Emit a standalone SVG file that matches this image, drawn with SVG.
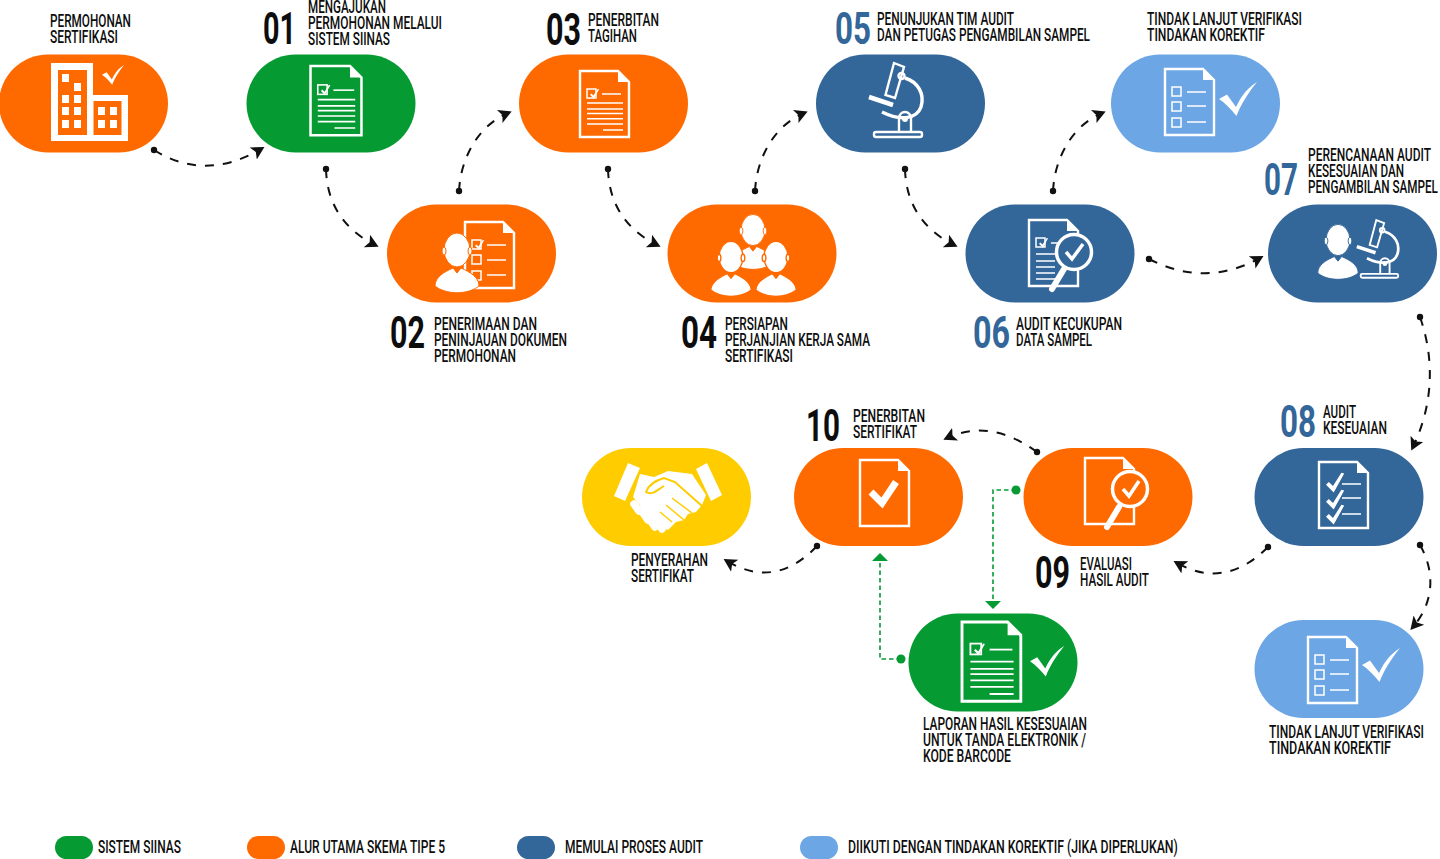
<svg xmlns="http://www.w3.org/2000/svg" width="1440" height="859" viewBox="0 0 1440 859">
<style>
text{font-family:"Roboto","Liberation Sans",sans-serif;fill:#0d0d0d;font-weight:500}
.t{font-size:18.500px}
.l{font-size:17.500px}
.n{font-size:44px;font-weight:700}
.nb{fill:#336699}
.or{fill:#FF6A00}.gr{fill:#069A33}.bl{fill:#336699}.lb{fill:#6CA6E4}.ye{fill:#FFCC00}
.ln{fill:none;stroke:#fff;stroke-width:2.4}
.ln1{fill:none;stroke:#fff;stroke-width:1.5}
.w{fill:#fff}
.c{fill:none;stroke:#111;stroke-width:2;stroke-dasharray:9 9;marker-start:url(#dot);marker-end:url(#arr)}
.g{fill:none;stroke:#069A33;stroke-width:1.6;stroke-dasharray:4.5 3}
</style>
<defs>
<marker id="dot" markerUnits="userSpaceOnUse" markerWidth="10" markerHeight="10" refX="5" refY="5"><circle cx="5" cy="5" r="3.2" fill="#111"/></marker>
<marker id="arr" markerUnits="userSpaceOnUse" markerWidth="18" markerHeight="18" refX="9" refY="9" orient="auto"><path d="M0,2 L13,9 L0,16 L3,9Z" fill="#111"/></marker>
<marker id="gdot" markerUnits="userSpaceOnUse" markerWidth="12" markerHeight="12" refX="6" refY="6"><circle cx="6" cy="6" r="4.5" fill="#069A33"/></marker>
<rect id="pill" width="169" height="98" rx="49"/>
<rect id="leg" width="38" height="23" rx="11.5"/>
<path id="page" d="M0,0H38L49,11V66H0Z"/>
<path id="fold" d="M38,0L49,11H38Z"/>
<g id="doc"><use href="#page" class="ln"/><use href="#fold" class="w"/></g>
<path id="tick" d="M0,5.5L2,3.5L5,6.5L11,-3L13,-2.5L5.5,11Z" class="w"/>
<g id="checklist">
<use href="#doc"/>
<rect x="7" y="18" width="9" height="9" class="ln1"/><rect x="7" y="33" width="9" height="9" class="ln1"/><rect x="7" y="49" width="9" height="9" class="ln1"/>
<path d="M22,23H41M22,37H41M22,53H41" class="ln1"/>
</g>
<path id="bigtick" d="M0,17L8,12.500L17,25C23,12 30,5 38,0C30,10 22,22 17.500,34C12,27 6,21 0,17Z" class="w"/>
<g id="micro">
<path d="M-6,-41L4,-37L-5,-6L-14.500,-9Z" class="ln"/>
<circle cx="1.500" cy="-28" r="3" class="ln"/>
<path d="M5,-26C18,-22 25,-10 21,3C17,14 2,18 -18,8" fill="none" stroke="#fff" stroke-width="3.500"/>
<path d="M-31,-7L-7,1" fill="none" stroke="#fff" stroke-width="4.500"/>
<rect x="-26" y="28" width="48" height="5" rx="2" class="ln"/>
<path d="M-1,28V14A6,6 0 0 1 11,14V28" class="ln"/>
<circle cx="5" cy="15" r="3" class="w"/>
</g>
<g id="person">
<ellipse cx="0" cy="0" rx="13" ry="17"/>
<ellipse cx="-13" cy="1" rx="2" ry="4"/><ellipse cx="13" cy="1" rx="2" ry="4"/>
<path d="M-22,36C-22,27 -13,22 -4,18L0,23L4,18C13,22 22,27 22,36C11,45 -11,45 -22,36Z"/>
</g>
<g id="lines"><path d="M2,0H38M2,6H38M2,10.500H38M2,15.700H38M2,21H38M18,27H38" class="ln1"/></g>
</defs>

<g id="connectors">
<path class="c" d="M154,150Q205,182 261,149"/>
<path class="c" d="M326,169C327,205 345,230 375,245"/>
<path class="c" d="M459,191C461,155 480,125 508,113"/>
<path class="c" d="M608,169C609,205 627,230 657,245"/>
<path class="c" d="M755,191C757,155 776,125 804,113"/>
<path class="c" d="M905,169C906,205 924,230 954,245"/>
<path class="c" d="M1053,191C1055,155 1074,125 1102,113"/>
<path class="c" d="M1149,259Q1205,288 1260,258"/>
<path class="c" d="M1420,317C1435,360 1433,405 1413,447"/>
<path class="c" d="M1420,545C1437,575 1432,605 1413,627"/>
<path class="c" d="M1268,547Q1225,590 1177,563"/>
<path class="c" d="M1037,452Q990,418 947,438"/>
<path class="c" d="M817,546Q775,590 727,561"/>
<path class="g" marker-start="url(#gdot)" d="M1016,490H993V602"/>
<path d="M985,601H1001L993,609Z" fill="#069A33"/>
<path class="g" marker-start="url(#gdot)" d="M901,659H880V561"/>
<path d="M872,561H888L880,553Z" fill="#069A33"/>
</g>

<g id="start">
<use href="#pill" x="-1" y="54.500" class="or"/>
<path class="w" fill-rule="evenodd" d="M51,63H93V95H128V141H51ZM58,70V135H87V70ZM93.500,101V135H121.500V101Z"/>
<path class="w" d="M62,74h7v8h-7zM74,83h7v8h-7zM62,95h7v8h-7zM74,95h7v8h-7zM62,107h7v8h-7zM74,107h7v8h-7zM62,120h7v8h-7zM74,120h7v8h-7zM98,107h7v8h-7zM110,107h7v8h-7zM98,120h7v8h-7zM110,120h7v8h-7z"/>
<use href="#bigtick" transform="translate(102,65) scale(.58)"/>
<text class="t" transform="translate(50 27) scale(.62 1)" textLength="130.600" lengthAdjust="spacingAndGlyphs">PERMOHONAN</text>
<text class="t" transform="translate(50 43) scale(.62 1)" textLength="109.700" lengthAdjust="spacingAndGlyphs">SERTIFIKASI</text>
</g>

<g id="step01">
<use href="#pill" x="246.500" y="54.500" class="gr"/>
<g transform="translate(310.500,66) scale(1.04,1.05)"><use href="#doc"/><rect x="7" y="18" width="9" height="9" class="ln1"/><use href="#tick" transform="translate(10,20) scale(.7)"/><path d="M22,23H42" class="ln1"/><use href="#lines" transform="translate(5,32)"/></g>
<text class="n" transform="translate(263 44) scale(.72 1)" textLength="45.800" lengthAdjust="spacingAndGlyphs">01</text>
<text class="t" transform="translate(308 13) scale(.62 1)" textLength="125.800" lengthAdjust="spacingAndGlyphs">MENGAJUKAN</text>
<text class="t" transform="translate(308 29) scale(.62 1)" textLength="216.100" lengthAdjust="spacingAndGlyphs">PERMOHONAN MELALUI</text>
<text class="t" transform="translate(308 45) scale(.62 1)" textLength="132.300" lengthAdjust="spacingAndGlyphs">SISTEM SIINAS</text>
</g>

<g id="step02">
<use href="#pill" x="387" y="204.500" class="or"/>
<g transform="translate(465,222)"><use href="#doc"/><rect x="7" y="18" width="9" height="9" class="ln1"/><use href="#tick" transform="translate(10,20) scale(.7)"/><rect x="7" y="33" width="9" height="9" class="ln1"/><rect x="7" y="49" width="9" height="9" class="ln1"/><path d="M22,23H41M22,38H41M22,53H41" class="ln1"/></g>
<use href="#person" transform="translate(457,250)" fill="#fff" stroke="#FF6A00" stroke-width="1"/>
<text class="n" transform="translate(390 348) scale(.72 1)" textLength="48.600" lengthAdjust="spacingAndGlyphs">02</text>
<text class="t" transform="translate(434 330) scale(.62 1)" textLength="166.100" lengthAdjust="spacingAndGlyphs">PENERIMAAN DAN</text>
<text class="t" transform="translate(434 346) scale(.62 1)" textLength="214.500" lengthAdjust="spacingAndGlyphs">PENINJAUAN DOKUMEN</text>
<text class="t" transform="translate(434 362) scale(.62 1)" textLength="132.300" lengthAdjust="spacingAndGlyphs">PERMOHONAN</text>
</g>

<g id="step03">
<use href="#pill" x="519" y="54.500" class="or"/>
<g transform="translate(580,71)"><use href="#doc"/><rect x="7" y="18" width="9" height="9" class="ln1"/><use href="#tick" transform="translate(10,20) scale(.7)"/><path d="M22,23H41" class="ln1"/><use href="#lines" transform="translate(5,32)"/></g>
<text class="n" transform="translate(546 45) scale(.72 1)" textLength="48.600" lengthAdjust="spacingAndGlyphs">03</text>
<text class="t" transform="translate(588 26) scale(.62 1)" textLength="114.500" lengthAdjust="spacingAndGlyphs">PENERBITAN</text>
<text class="t" transform="translate(588 42) scale(.62 1)" textLength="79" lengthAdjust="spacingAndGlyphs">TAGIHAN</text>
</g>

<g id="step04">
<use href="#pill" x="667.500" y="204.500" class="or"/>
<use href="#person" transform="translate(753,230) scale(.92)" fill="#fff" stroke="#FF6A00" stroke-width="1"/>
<use href="#person" transform="translate(731,257) scale(.92)" fill="#fff" stroke="#FF6A00" stroke-width="1.500"/>
<use href="#person" transform="translate(776,257) scale(.92)" fill="#fff" stroke="#FF6A00" stroke-width="1.500"/>
<text class="n" transform="translate(681 348) scale(.72 1)" textLength="50" lengthAdjust="spacingAndGlyphs">04</text>
<text class="t" transform="translate(725 330) scale(.62 1)" textLength="101.600" lengthAdjust="spacingAndGlyphs">PERSIAPAN</text>
<text class="t" transform="translate(725 346) scale(.62 1)" textLength="233.900" lengthAdjust="spacingAndGlyphs">PERJANJIAN KERJA SAMA</text>
<text class="t" transform="translate(725 362) scale(.62 1)" textLength="109.700" lengthAdjust="spacingAndGlyphs">SERTIFIKASI</text>
</g>

<g id="step05">
<use href="#pill" x="816" y="54.500" class="bl"/>
<use href="#micro" transform="translate(900,104)"/>
<text class="n nb" transform="translate(835 44) scale(.72 1)" textLength="50" lengthAdjust="spacingAndGlyphs">05</text>
<text class="t" transform="translate(877 25) scale(.62 1)" textLength="221" lengthAdjust="spacingAndGlyphs">PENUNJUKAN TIM AUDIT</text>
<text class="t" transform="translate(877 41) scale(.62 1)" textLength="343.500" lengthAdjust="spacingAndGlyphs">DAN PETUGAS PENGAMBILAN SAMPEL</text>
</g>

<g id="followup-top">
<use href="#pill" x="1111" y="54.500" class="lb"/>
<use href="#checklist" transform="translate(1165,69)"/>
<use href="#bigtick" transform="translate(1219,82)"/>
<text class="t" transform="translate(1147 25) scale(.62 1)" textLength="250" lengthAdjust="spacingAndGlyphs">TINDAK LANJUT VERIFIKASI</text>
<text class="t" transform="translate(1147 41) scale(.62 1)" textLength="190.300" lengthAdjust="spacingAndGlyphs">TINDAKAN KOREKTIF</text>
</g>

<g id="step06">
<use href="#pill" x="965.500" y="204.500" class="bl"/>
<g transform="translate(1029,220)"><use href="#doc"/><rect x="7" y="18" width="9" height="9" class="ln1"/><use href="#tick" transform="translate(10,20) scale(.7)"/><path d="M22,23H30M7,34H26M7,41H26M7,47H26M7,53H26M7,59H28" class="ln1"/></g>
<circle cx="1074" cy="252" r="17.500" fill="#336699" stroke="#fff" stroke-width="3.500"/>
<path d="M1066,252L1072,259L1083,244" fill="none" stroke="#fff" stroke-width="3.500"/>
<path d="M1064,269L1052,289" stroke="#fff" stroke-width="6" stroke-linecap="round"/>
<text class="n nb" transform="translate(973 348) scale(.72 1)" textLength="51.400" lengthAdjust="spacingAndGlyphs">06</text>
<text class="t" transform="translate(1016 330) scale(.62 1)" textLength="171" lengthAdjust="spacingAndGlyphs">AUDIT KECUKUPAN</text>
<text class="t" transform="translate(1016 346) scale(.62 1)" textLength="122.600" lengthAdjust="spacingAndGlyphs">DATA SAMPEL</text>
</g>

<g id="step07">
<use href="#pill" x="1268" y="204.500" class="bl"/>
<use href="#person" transform="translate(1338,240) scale(.92)" fill="#fff" stroke="#336699" stroke-width="1"/>
<use href="#micro" transform="translate(1381,252) scale(.78)"/>
<text class="n nb" transform="translate(1264 195) scale(.72 1)" textLength="47.200" lengthAdjust="spacingAndGlyphs">07</text>
<text class="t" transform="translate(1308 161) scale(.62 1)" textLength="198.400" lengthAdjust="spacingAndGlyphs">PERENCANAAN AUDIT</text>
<text class="t" transform="translate(1308 177) scale(.62 1)" textLength="154.800" lengthAdjust="spacingAndGlyphs">KESESUAIAN DAN</text>
<text class="t" transform="translate(1308 193) scale(.62 1)" textLength="209.500" lengthAdjust="spacingAndGlyphs">PENGAMBILAN SAMPEL</text>
</g>

<g id="step08">
<use href="#pill" x="1254.500" y="448" class="bl"/>
<g transform="translate(1319,462)"><use href="#doc"/>
<use href="#tick" transform="translate(7,15) scale(1.4)"/><use href="#tick" transform="translate(7,32) scale(1.4)"/><use href="#tick" transform="translate(7,47) scale(1.4)"/>
<path d="M23,22H42M23,36H42M23,52H42" class="ln1"/></g>
<text class="n nb" transform="translate(1280 437) scale(.72 1)" textLength="50" lengthAdjust="spacingAndGlyphs">08</text>
<text class="t" transform="translate(1323 418) scale(.62 1)" textLength="53.200" lengthAdjust="spacingAndGlyphs">AUDIT</text>
<text class="t" transform="translate(1323 434) scale(.62 1)" textLength="103.200" lengthAdjust="spacingAndGlyphs">KESEUAIAN</text>
</g>

<g id="step09">
<use href="#pill" x="1023.500" y="448" class="or"/>
<use href="#doc" transform="translate(1085,458)"/>
<circle cx="1130" cy="489" r="17.500" fill="#FF6A00" stroke="#fff" stroke-width="3.500"/>
<path d="M1123,489L1129,496L1139,481" fill="none" stroke="#fff" stroke-width="3.500"/>
<path d="M1119,507L1107,527" stroke="#fff" stroke-width="6" stroke-linecap="round"/>
<text class="n" transform="translate(1035 588) scale(.72 1)" textLength="48.600" lengthAdjust="spacingAndGlyphs">09</text>
<text class="t" transform="translate(1080 570) scale(.62 1)" textLength="83.900" lengthAdjust="spacingAndGlyphs">EVALUASI</text>
<text class="t" transform="translate(1080 586) scale(.62 1)" textLength="111.300" lengthAdjust="spacingAndGlyphs">HASIL AUDIT</text>
</g>

<g id="step10">
<use href="#pill" x="794" y="448" class="or"/>
<use href="#doc" transform="translate(860,460)"/>
<path d="M871,492L882,503L896,482" fill="none" stroke="#fff" stroke-width="7"/>
<text class="n" transform="translate(806 441) scale(.72 1)" textLength="47.200" lengthAdjust="spacingAndGlyphs">10</text>
<text class="t" transform="translate(853 422) scale(.62 1)" textLength="116.100" lengthAdjust="spacingAndGlyphs">PENERBITAN</text>
<text class="t" transform="translate(853 438) scale(.62 1)" textLength="103.200" lengthAdjust="spacingAndGlyphs">SERTIFIKAT</text>
</g>

<g id="handover">
<use href="#pill" x="582" y="448" class="ye"/>
<path class="w" d="M628,463L640,468L625,501L614,496ZM707,463L696,469L711,501L722,495Z"/>
<path class="w" d="M640,474L654,477L668,471L692,474L706,495L702,505L696,512L688,514L684,520L676,522L668,530L660,526L648,515L633,497Z"/>
<path d="M702,506L675,482L664,478C654,481 648,486 646,492C652,496 657,490 664,486" fill="none" stroke="#FFCC00" stroke-width="2"/>
<path d="M672,498L692,513M666,505L684,520M660,512L672,522" stroke="#FFCC00" stroke-width="1.500"/>
<g stroke="#fff" stroke-width="7.500" stroke-linecap="round"><path d="M634,504L639,511M641,510L648,520M648,517L655,527M657,521L662,529"/></g>
<text class="t" transform="translate(631 566) scale(.62 1)" textLength="124.200" lengthAdjust="spacingAndGlyphs">PENYERAHAN</text>
<text class="t" transform="translate(631 582) scale(.62 1)" textLength="101.600" lengthAdjust="spacingAndGlyphs">SERTIFIKAT</text>
</g>

<g id="report">
<use href="#pill" x="908.500" y="613.500" class="gr"/>
<g transform="translate(962,622) scale(1.2)"><use href="#doc"/><rect x="7" y="18" width="9" height="9" class="ln1"/><use href="#tick" transform="translate(10,20) scale(.7)"/><path d="M23,23H42" class="ln1"/><use href="#lines" transform="translate(5,33)"/></g>
<use href="#bigtick" transform="translate(1030,646) scale(.9)"/>
<text class="t" transform="translate(923 730) scale(.62 1)" textLength="264.500" lengthAdjust="spacingAndGlyphs">LAPORAN HASIL KESESUAIAN</text>
<text class="t" transform="translate(923 746) scale(.62 1)" textLength="262.900" lengthAdjust="spacingAndGlyphs">UNTUK TANDA ELEKTRONIK /</text>
<text class="t" transform="translate(923 762) scale(.62 1)" textLength="141.900" lengthAdjust="spacingAndGlyphs">KODE BARCODE</text>
</g>

<g id="followup-bottom">
<use href="#pill" x="1254.500" y="620" class="lb"/>
<use href="#checklist" transform="translate(1308,637)"/>
<use href="#bigtick" transform="translate(1362,648)"/>
<text class="t" transform="translate(1269 738) scale(.62 1)" textLength="250" lengthAdjust="spacingAndGlyphs">TINDAK LANJUT VERIFIKASI</text>
<text class="t" transform="translate(1269 754) scale(.62 1)" textLength="196.800" lengthAdjust="spacingAndGlyphs">TINDAKAN KOREKTIF</text>
</g>

<g id="legend">
<use href="#leg" x="55" y="836" class="gr"/>
<text class="l" transform="translate(98 853) scale(.68 1)" textLength="122" lengthAdjust="spacingAndGlyphs">SISTEM SIINAS</text>
<use href="#leg" x="247" y="836" class="or"/>
<text class="l" transform="translate(290 853) scale(.68 1)" textLength="228" lengthAdjust="spacingAndGlyphs">ALUR UTAMA SKEMA TIPE 5</text>
<use href="#leg" x="517" y="836" class="bl"/>
<text class="l" transform="translate(565 853) scale(.68 1)" textLength="203" lengthAdjust="spacingAndGlyphs">MEMULAI PROSES AUDIT</text>
<use href="#leg" x="800" y="836" class="lb"/>
<text class="l" transform="translate(848 853) scale(.68 1)" textLength="485" lengthAdjust="spacingAndGlyphs">DIIKUTI DENGAN TINDAKAN KOREKTIF (JIKA DIPERLUKAN)</text>
</g>
</svg>
